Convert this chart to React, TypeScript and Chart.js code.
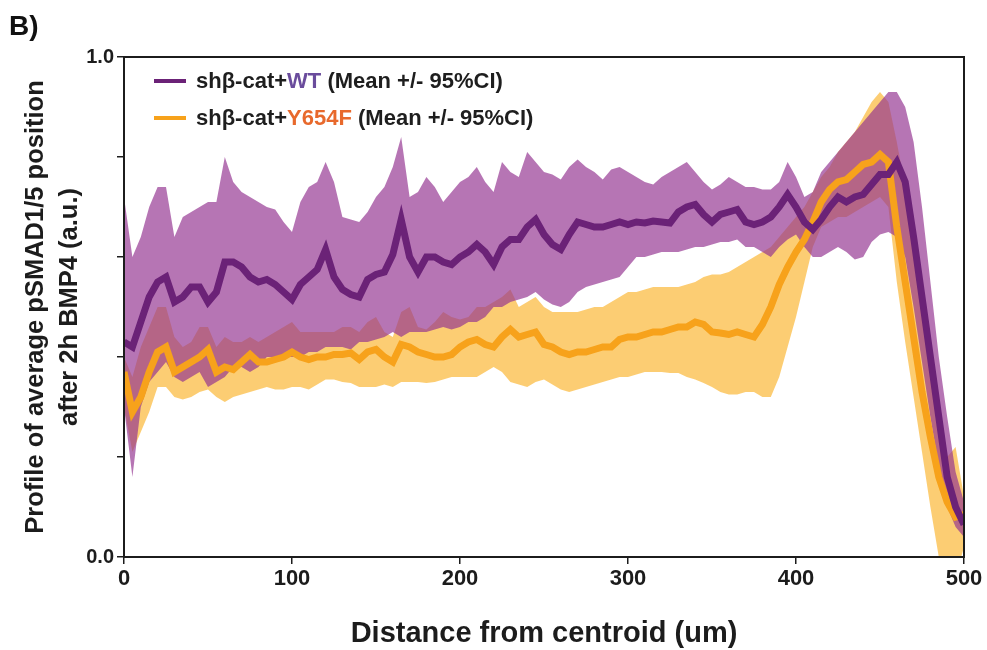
import React, { useEffect, useRef } from 'react';
import { Chart, registerables } from 'chart.js';

Chart.register(...registerables);

// Distance from centroid (um)
const distance = [
  0, 5, 10, 15, 20, 25, 30, 35, 40, 45, 50, 55, 60, 65, 70, 75, 80, 85, 90, 95,
  100, 105, 110, 115, 120, 125, 130, 135, 140, 145, 150, 155, 160, 165, 170, 175, 180, 185, 190, 195,
  200, 205, 210, 215, 220, 225, 230, 235, 240, 245, 250, 255, 260, 265, 270, 275, 280, 285, 290, 295,
  300, 305, 310, 315, 320, 325, 330, 335, 340, 345, 350, 355, 360, 365, 370, 375, 380, 385, 390, 395,
  400, 405, 410, 415, 420, 425, 430, 435, 440, 445, 450, 455, 460, 465, 470, 475, 480, 485, 490, 495, 500,
];

// shβ-cat+WT
const wtMean = [
  0.43, 0.42, 0.47, 0.52, 0.55, 0.56, 0.51, 0.52, 0.54, 0.54, 0.51, 0.53, 0.59, 0.59, 0.58, 0.56, 0.55, 0.555, 0.545, 0.53,
  0.515, 0.545, 0.56, 0.575, 0.615, 0.56, 0.535, 0.525, 0.52, 0.555, 0.565, 0.57, 0.605, 0.675, 0.6, 0.57, 0.6, 0.6, 0.59, 0.585,
  0.6, 0.61, 0.625, 0.61, 0.585, 0.62, 0.635, 0.635, 0.66, 0.675, 0.645, 0.625, 0.615, 0.645, 0.67, 0.665, 0.66, 0.66, 0.665, 0.67,
  0.665, 0.67, 0.668, 0.672, 0.67, 0.668, 0.69, 0.7, 0.705, 0.685, 0.67, 0.685, 0.69, 0.695, 0.67, 0.665, 0.67, 0.68, 0.7, 0.725,
  0.7, 0.67, 0.655, 0.675, 0.7, 0.72, 0.71, 0.72, 0.725, 0.745, 0.765, 0.765, 0.79, 0.75, 0.64, 0.52, 0.4, 0.28, 0.16, 0.1, 0.065,
];
const wtUpper = [
  0.72, 0.6, 0.64, 0.7, 0.74, 0.74, 0.64, 0.68, 0.69, 0.7, 0.71, 0.71, 0.8, 0.75, 0.73, 0.72, 0.71, 0.7, 0.695, 0.67,
  0.65, 0.71, 0.74, 0.75, 0.79, 0.75, 0.68, 0.675, 0.67, 0.69, 0.72, 0.74, 0.78, 0.84, 0.72, 0.73, 0.76, 0.74, 0.71, 0.73,
  0.75, 0.76, 0.78, 0.75, 0.73, 0.79, 0.77, 0.76, 0.81, 0.79, 0.77, 0.765, 0.755, 0.78, 0.795, 0.78, 0.77, 0.755, 0.775, 0.78,
  0.77, 0.76, 0.75, 0.745, 0.76, 0.77, 0.78, 0.79, 0.77, 0.75, 0.735, 0.745, 0.76, 0.75, 0.74, 0.74, 0.735, 0.735, 0.75, 0.79,
  0.76, 0.72, 0.73, 0.77, 0.79, 0.81, 0.83, 0.85, 0.87, 0.89, 0.91, 0.93, 0.93, 0.9, 0.83, 0.7, 0.55, 0.4, 0.28, 0.17, 0.11,
];
const wtLower = [
  0.3, 0.16, 0.3, 0.35, 0.37, 0.39, 0.36, 0.35, 0.36, 0.37, 0.34, 0.35, 0.36, 0.38, 0.38, 0.37, 0.38, 0.4, 0.4, 0.4,
  0.4, 0.4, 0.41, 0.41, 0.42, 0.42, 0.42, 0.415, 0.43, 0.43, 0.435, 0.44, 0.45, 0.44, 0.45, 0.45, 0.45, 0.455, 0.46, 0.455,
  0.46, 0.47, 0.47, 0.48, 0.5, 0.5, 0.51, 0.515, 0.52, 0.53, 0.515, 0.505, 0.5, 0.51, 0.53, 0.54, 0.545, 0.55, 0.555, 0.56,
  0.58, 0.6, 0.6, 0.605, 0.61, 0.61, 0.61, 0.615, 0.62, 0.62, 0.625, 0.63, 0.63, 0.635, 0.62, 0.62, 0.61, 0.6, 0.62, 0.635,
  0.645, 0.62, 0.6, 0.6, 0.61, 0.62, 0.61, 0.595, 0.6, 0.63, 0.645, 0.65, 0.64, 0.6, 0.5, 0.39, 0.28, 0.18, 0.1, 0.06, 0.04,
];

// shβ-cat+Y654F
const mutMean = [
  0.37, 0.29, 0.32, 0.37, 0.41, 0.42, 0.37, 0.38, 0.39, 0.4, 0.415, 0.37, 0.38, 0.375, 0.39, 0.405, 0.39, 0.39, 0.395, 0.4,
  0.41, 0.4, 0.395, 0.4, 0.4, 0.405, 0.405, 0.408, 0.395, 0.41, 0.415, 0.4, 0.39, 0.425, 0.42, 0.41, 0.405, 0.4, 0.4, 0.405,
  0.42, 0.43, 0.435, 0.425, 0.42, 0.44, 0.455, 0.44, 0.445, 0.45, 0.425, 0.42, 0.41, 0.405, 0.41, 0.41, 0.415, 0.42, 0.42, 0.435,
  0.44, 0.44, 0.445, 0.45, 0.45, 0.455, 0.46, 0.46, 0.47, 0.465, 0.45, 0.448, 0.445, 0.45, 0.445, 0.44, 0.465, 0.5, 0.545, 0.58,
  0.61, 0.635, 0.67, 0.71, 0.735, 0.75, 0.755, 0.77, 0.785, 0.79, 0.805, 0.79, 0.66, 0.55, 0.44, 0.33, 0.24, 0.16, 0.11, 0.08, 0.085,
];
const mutUpper = [
  0.4, 0.36, 0.42, 0.46, 0.5, 0.5, 0.44, 0.42, 0.43, 0.46, 0.46, 0.42, 0.44, 0.43, 0.43, 0.44, 0.43, 0.44, 0.45, 0.46,
  0.47, 0.45, 0.45, 0.45, 0.45, 0.45, 0.46, 0.46, 0.45, 0.47, 0.48, 0.45, 0.44, 0.49, 0.5, 0.46, 0.455, 0.47, 0.49, 0.48,
  0.475, 0.48, 0.5, 0.5, 0.51, 0.52, 0.535, 0.5, 0.51, 0.52, 0.5, 0.49, 0.49, 0.49, 0.49, 0.495, 0.5, 0.5, 0.51, 0.52,
  0.53, 0.53, 0.535, 0.54, 0.54, 0.54, 0.54, 0.545, 0.55, 0.56, 0.565, 0.565, 0.57, 0.58, 0.59, 0.6, 0.61, 0.62, 0.64, 0.66,
  0.68, 0.7, 0.73, 0.76, 0.78, 0.81, 0.83, 0.85, 0.88, 0.91, 0.93, 0.91, 0.83, 0.74, 0.62, 0.5, 0.39, 0.28, 0.2, 0.22, 0.12,
];
const mutLower = [
  0.3, 0.21, 0.25, 0.29, 0.34, 0.34, 0.32, 0.315, 0.32, 0.33, 0.335, 0.32, 0.31, 0.32, 0.325, 0.33, 0.335, 0.34, 0.335, 0.335,
  0.34, 0.34, 0.335, 0.345, 0.355, 0.355, 0.35, 0.348, 0.34, 0.34, 0.34, 0.345, 0.34, 0.35, 0.35, 0.35, 0.348, 0.35, 0.355, 0.36,
  0.36, 0.36, 0.36, 0.37, 0.38, 0.37, 0.35, 0.345, 0.34, 0.35, 0.355, 0.345, 0.335, 0.33, 0.335, 0.34, 0.345, 0.35, 0.355, 0.36,
  0.36, 0.365, 0.37, 0.37, 0.37, 0.368, 0.368, 0.36, 0.355, 0.348, 0.34, 0.33, 0.325, 0.325, 0.33, 0.33, 0.32, 0.32, 0.36, 0.42,
  0.48, 0.55, 0.62, 0.66, 0.67, 0.68, 0.68, 0.69, 0.7, 0.71, 0.72, 0.7, 0.55, 0.43, 0.32, 0.21, 0.1, 0.0, -0.04, -0.04, 0.02,
];

const xTickLabels = ['0', '100', '200', '300', '400', '500'];
const yTickLabels = ['0.0', '', '', '', '', '1.0'];

const FONT = '"Liberation Sans", Arial, Helvetica, sans-serif';
const PURPLE = '#6b2277';
const PURPLE_BAND = 'rgba(148, 51, 145, 0.68)';
const ORANGE = '#f7a21b';
const ORANGE_BAND = 'rgba(252, 196, 90, 0.85)';
const AXIS = '#1c1c1c';

const pts = (ys: number[]) => distance.map((x, i) => ({ x, y: ys[i] }));

const framePlugin = {
  id: 'frame',
  afterDraw(chart: any) {
    const { ctx, chartArea } = chart;
    ctx.save();
    ctx.strokeStyle = AXIS;
    ctx.lineWidth = 2;
    ctx.strokeRect(chartArea.left, chartArea.top, chartArea.right - chartArea.left, chartArea.bottom - chartArea.top);
    ctx.restore();
  },
};

export default function App() {
  const ref = useRef<HTMLCanvasElement | null>(null);

  useEffect(() => {
    if (!ref.current) return;
    const band = (data: number[], color: string | undefined, fill: number | false, order: number) => ({
      data: pts(data),
      borderWidth: 0,
      borderColor: 'rgba(0,0,0,0)',
      backgroundColor: color || 'rgba(0,0,0,0)',
      pointRadius: 0,
      tension: 0,
      fill,
      order,
    });
    const chart = new Chart(ref.current, {
      type: 'line',
      data: {
        datasets: [
          {
            label: 'shβ-cat+WT',
            data: pts(wtMean),
            borderColor: PURPLE,
            borderWidth: 7,
            pointRadius: 0,
            tension: 0,
            fill: false,
            order: 0,
          },
          {
            label: 'shβ-cat+Y654F',
            data: pts(mutMean),
            borderColor: ORANGE,
            borderWidth: 7,
            pointRadius: 0,
            tension: 0,
            fill: false,
            order: 1,
          },
          { label: 'WT upper', ...band(wtUpper, PURPLE_BAND, 3, 2) },
          { label: 'WT lower', ...band(wtLower, undefined, false, 3) },
          { label: 'Y654F upper', ...band(mutUpper, ORANGE_BAND, 5, 4) },
          { label: 'Y654F lower', ...band(mutLower, undefined, false, 5) },
        ],
      },
      options: {
        responsive: false,
        animation: false,
        layout: { padding: { left: 0, right: 23, top: 57, bottom: 0 } },
        plugins: {
          legend: { display: false },
          tooltip: { enabled: false },
        },
        scales: {
          x: {
            type: 'linear',
            min: 0,
            max: 500,
            afterFit: (s: any) => { s.height = 93; },
            ticks: {
              stepSize: 100,
              color: AXIS,
              font: { family: FONT, size: 22, weight: 'bold' },
              padding: 2,
              maxRotation: 0,
              callback: (_v: any, i: number) => xTickLabels[i],
            },
            grid: { drawOnChartArea: false, drawTicks: true, tickLength: 7, color: AXIS, lineWidth: 1.5 },
            border: { display: true, color: AXIS, width: 2 },
            title: {
              display: true,
              text: 'Distance from centroid (um)',
              color: AXIS,
              font: { family: FONT, size: 29, weight: 'bold', lineHeight: 1.1 },
              padding: { top: 0, bottom: 0 },
            },
          },
          y: {
            type: 'linear',
            min: 0,
            max: 1,
            afterFit: (s: any) => { s.width = 124; },
            ticks: {
              stepSize: 0.2,
              color: AXIS,
              font: { family: FONT, size: 20, weight: 'bold' },
              padding: 3,
              callback: (_v: any, i: number) => yTickLabels[i],
            },
            grid: { drawOnChartArea: false, drawTicks: true, tickLength: 7, color: AXIS, lineWidth: 1.5 },
            border: { display: true, color: AXIS, width: 2 },
            title: {
              display: true,
              text: ['Profile of average pSMAD1/5 position', 'after 2h BMP4 (a.u.)'],
              color: AXIS,
              font: { family: FONT, size: 25.5, weight: 'bold', lineHeight: 1.33 },
              padding: { top: 19, bottom: 0 },
            },
          },
        },
      },
      plugins: [framePlugin],
    });
    return () => chart.destroy();
  }, []);

  const row: React.CSSProperties = { display: 'flex', alignItems: 'center', height: 37, whiteSpace: 'nowrap' };
  const swatch = (c: string): React.CSSProperties => ({ display: 'inline-block', width: 32, height: 4, background: c, marginRight: 10 });

  return (
    <div style={{ position: 'fixed', left: 0, top: 0, width: 987, height: 650, background: '#ffffff' }}>
      <canvas ref={ref} width={987} height={650} style={{ display: 'block' }} />
      <div style={{ position: 'absolute', left: 9, top: 10, font: `bold 28px ${FONT}`, color: '#111' }}>B)</div>
      <div style={{ position: 'absolute', left: 154, top: 62, font: `bold 22px ${FONT}`, color: '#1e1e1e' }}>
        <div style={row}>
          <span style={swatch(PURPLE)} />
          <span>shβ-cat+<span style={{ color: '#6a4c9c' }}>WT</span> (Mean +/- 95%CI)</span>
        </div>
        <div style={row}>
          <span style={swatch(ORANGE)} />
          <span>shβ-cat+<span style={{ color: '#e8692c' }}>Y654F</span> (Mean +/- 95%CI)</span>
        </div>
      </div>
    </div>
  );
}
